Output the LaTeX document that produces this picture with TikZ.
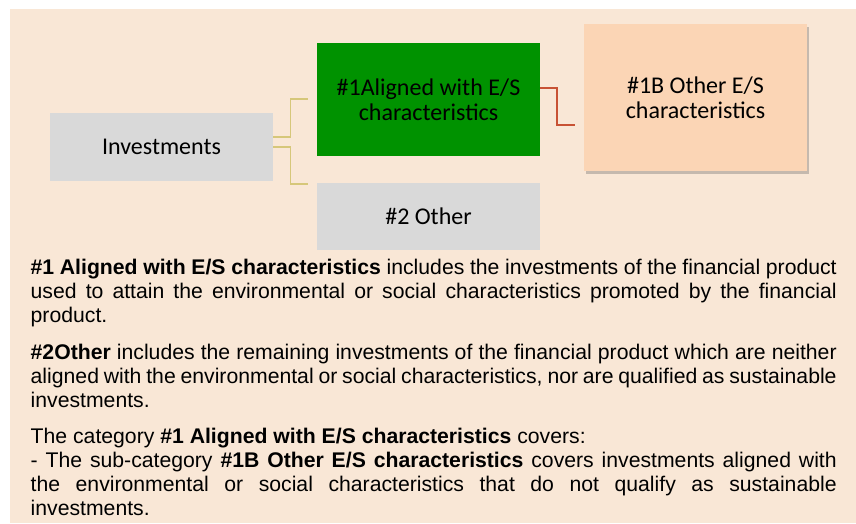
\documentclass[tikz,border=0pt]{standalone}
\usepackage{fontspec}
\setmainfont{Liberation Sans}
\newfontfamily\calibri{Carlito}
\usetikzlibrary{shadows}
\definecolor{bgpeach}{RGB}{249,231,214}
\definecolor{boxgrey}{RGB}{217,217,217}
\definecolor{boxgreen}{RGB}{0,146,0}
\definecolor{boxpeach}{RGB}{251,213,181}
\definecolor{khaki}{RGB}{214,199,122}
\definecolor{rust}{RGB}{200,82,52}
\newcommand\bodyspacing{\hyphenpenalty=10000\relax\spaceskip=0.278em plus 0.6em minus 0.12em\relax}
\begin{document}
\begin{tikzpicture}[x=1pt,y=-1pt,
  box/.style={draw=none, inner sep=0pt, align=center,
    font=\calibri\fontsize{24}{25}\selectfont},
  greybox/.style={box, fill=boxgrey},
  greenbox/.style={box, fill=boxgreen},
  peachbox/.style={box, fill=boxpeach,
    drop shadow={shadow xshift=2pt, shadow yshift=-3pt, opacity=0.35, fill=black!60}},
  khakiline/.style={draw=khaki, line width=1.4pt},
  rustline/.style={draw=rust, line width=1.6pt},
  para/.style={anchor=base west, inner sep=0pt, text width=806pt, align=justify,
    font=\fontsize{21.2}{24.2}\selectfont}
]
\useasboundingbox (0,0) rectangle (856,523);
\fill[white] (0,0) rectangle (856,523);
\fill[bgpeach] (10,9) rectangle (856,523);

\node[greybox, minimum width=223pt, minimum height=68pt] (inv) at (161.5,147) {Investments};
\node[greenbox, minimum width=223pt, minimum height=113pt] (al) at (428.5,99.5) {\#1Aligned with E/S\\characteristics};
\node[greybox, minimum width=223pt, minimum height=67pt] (oth) at (428.5,216.5) {\#2 Other};
\node[peachbox, minimum width=223pt, minimum height=147pt] (ob) at (695.5,97.5) {\#1B Other E/S\\characteristics};

\coordinate (k1) at (308,99);
\coordinate (k2) at (308,184);
\coordinate (r1) at (575,125);
\draw[khakiline] ([yshift=10pt]inv.east) -- ++(17,0) |- (k1);
\draw[khakiline] (inv.east) -- ++(17,0) |- (k2);
\draw[rustline] ([yshift=11.5pt]al.east) -- ++(17,0) |- (r1);

\node[para] (p1) at (30.5,274) {\bodyspacing\textbf{\#1 Aligned with E/S characteristics} includes the investments of the financial product\linebreak used to attain the environmental or social characteristics promoted by the financial\linebreak product.};
\node[para] (p2) at (30.5,359) {\bodyspacing\textbf{\#2Other} includes the remaining investments of the financial product which are neither\linebreak aligned with the environmental or social characteristics, nor are qualified as sustainable\linebreak investments.};
\node[para] (p3) at (30.5,443) {\bodyspacing The category \textbf{\#1 Aligned with E/S characteristics} covers:\\
- The sub-category \textbf{\#1B Other E/S characteristics} covers investments aligned with\linebreak the environmental or social characteristics that do not qualify as sustainable\linebreak investments.};
\end{tikzpicture}
\end{document}
